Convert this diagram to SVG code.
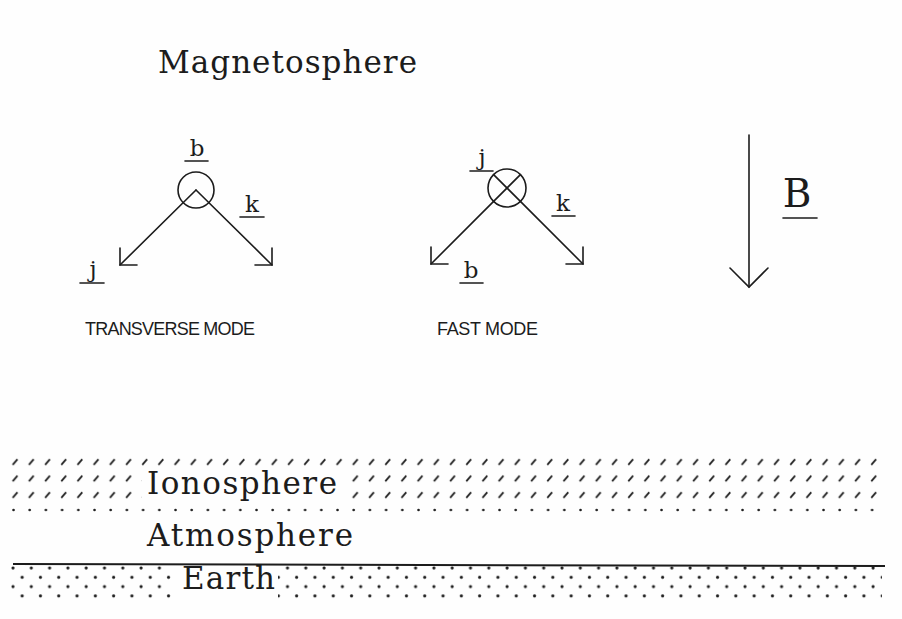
<svg xmlns="http://www.w3.org/2000/svg" width="902" height="619" viewBox="0 0 902 619">
<style>
.ln{stroke:#1c1c1c;stroke-width:1.6;fill:none;stroke-linecap:round}
.big{font-family:"DejaVu Serif","Liberation Serif",serif;font-size:31px;fill:#1c1c1c}
.lbl{font-family:"DejaVu Serif","Liberation Serif",serif;font-size:23px;fill:#1c1c1c}
.cap{font-family:"Liberation Sans",Arial,sans-serif;font-size:18px;fill:#1c1c1c}
</style>
<defs>
<pattern id="hatch" patternUnits="userSpaceOnUse" x="11.5" y="454" width="16.2" height="16.5">
<line x1="1.2" y1="10.7" x2="6" y2="5.3" stroke="#1c1c1c" stroke-width="1.8"/>
</pattern>
<pattern id="dotrow" patternUnits="userSpaceOnUse" x="12" y="505" width="16.2" height="10">
<circle cx="1.5" cy="5" r="1.3" fill="#1c1c1c"/>
</pattern>
<pattern id="dots" patternUnits="userSpaceOnUse" x="11" y="563" width="18.3" height="18.6">
<circle cx="2" cy="5" r="1.6" fill="#1c1c1c"/>
<circle cx="11.15" cy="14.3" r="1.6" fill="#1c1c1c"/>
</pattern>
</defs>
<rect width="902" height="619" fill="#fefefe"/>

<g id="magnetosphere"><text class="big" x="158" y="73" textLength="259">Magnetosphere</text></g>

<g id="transverse-mode">
<circle class="ln" cx="196" cy="190" r="18"/>
<text class="lbl" x="197" y="156" text-anchor="middle">b</text>
<line class="ln" x1="185" y1="161" x2="208" y2="161"/>
<text class="lbl" x="252" y="212" text-anchor="middle">k</text>
<line class="ln" x1="240" y1="217" x2="264" y2="217"/>
<text class="lbl" x="93" y="277" text-anchor="middle">j</text>
<line class="ln" x1="80" y1="283" x2="104" y2="283"/>
<text class="cap" x="85" y="335" textLength="170">TRANSVERSE MODE</text>
</g>

<g id="fast-mode">
<circle class="ln" cx="507" cy="188" r="19"/>
<line class="ln" x1="493.6" y1="174.6" x2="520.4" y2="201.4"/>
<line class="ln" x1="520.4" y1="174.6" x2="493.6" y2="201.4"/>
<text class="lbl" x="482" y="165" text-anchor="middle">j</text>
<line class="ln" x1="470" y1="171" x2="493" y2="171"/>
<text class="lbl" x="563" y="211" text-anchor="middle">k</text>
<line class="ln" x1="552" y1="216" x2="575" y2="216"/>
<text class="lbl" x="471" y="278" text-anchor="middle">b</text>
<line class="ln" x1="460" y1="283" x2="483" y2="283"/>
<text class="cap" x="437" y="335" textLength="101">FAST MODE</text>
</g>

<g id="field-B">
<text class="lbl" x="797" y="207" text-anchor="middle" style="font-size:39px">B</text>
<line class="ln" x1="783" y1="218" x2="817" y2="218"/>
</g>

<g id="connectors">
<line class="ln" x1="196" y1="190" x2="120" y2="265"/>
<polyline class="ln" points="120,248 120,265 137,265"/>
<line class="ln" x1="196" y1="190" x2="272" y2="265"/>
<polyline class="ln" points="272,248 272,265 255,265"/>
<line class="ln" x1="493.6" y1="201.4" x2="431" y2="264"/>
<polyline class="ln" points="431,247 431,264 448,264"/>
<line class="ln" x1="520.4" y1="201.4" x2="583" y2="264"/>
<polyline class="ln" points="583,247 583,264 566,264"/>
<line class="ln" x1="749" y1="135" x2="749" y2="287"/>
<polyline class="ln" points="730,268 749,287 768,268"/>
</g>

<g id="ionosphere">
<rect x="11" y="456" width="874" height="12" fill="url(#hatch)"/>
<rect x="11" y="472" width="131" height="29" fill="url(#hatch)"/>
<rect x="343" y="472" width="542" height="29" fill="url(#hatch)"/>
<rect x="11" y="506" width="874" height="8" fill="url(#dotrow)"/>
<text class="big" x="147" y="494" textLength="190">Ionosphere</text>
</g>

<g id="atmosphere">
<text class="big" x="147" y="546" textLength="206">Atmosphere</text>
</g>

<g id="earth">
<line x1="13" y1="564" x2="885" y2="566" stroke="#1c1c1c" stroke-width="2"/>
<rect x="11" y="565" width="160" height="36" fill="url(#dots)"/>
<rect x="278" y="565" width="604" height="36" fill="url(#dots)"/>
<text class="big" x="182" y="589" textLength="93">Earth</text>
</g>
</svg>
